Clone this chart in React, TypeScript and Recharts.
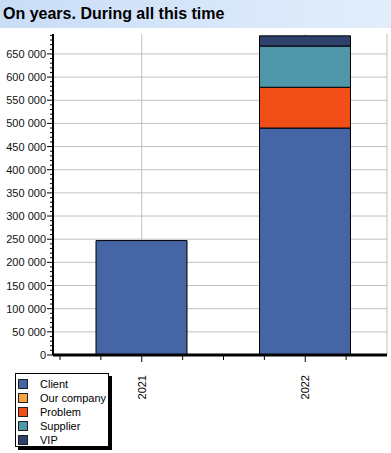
import { BarChart, Bar, XAxis, YAxis, CartesianGrid } from 'recharts'

const years = ['2021', '2022']
const client = [247000, 490000]
const ourCompany = [0, 0]
const problem = [0, 88000]
const supplier = [0, 89000]
const vip = [0, 22000]

const seriesNames = ['Client', 'Our company', 'Problem', 'Supplier', 'VIP']
const seriesKeys = ['client', 'ourCompany', 'problem', 'supplier', 'vip']
const seriesColors = ['#4565a5', '#f5a345', '#f14f17', '#4f97a8', '#2d416c']

const majorTicks = [0, 50000, 100000, 150000, 200000, 250000, 300000, 350000, 400000, 450000, 500000, 550000, 600000, 650000]
const minorTicks = Array.from({ length: 70 }, (_, i) => i * 10000)

const data = years.map((year, i) => ({
  year,
  client: client[i],
  ourCompany: ourCompany[i],
  problem: problem[i],
  supplier: supplier[i],
  vip: vip[i]
}))

const font = 'Arial, "Liberation Sans", sans-serif'
const BAND = 163.5

function YTick(props: any) {
  const { x, y, payload } = props
  const major = payload.value % 50000 === 0
  return (
    <g>
      <line x1={x - (major ? 6 : 3)} x2={x} y1={y} y2={y} stroke="#000" strokeWidth={1} />
      {major && (
        <text x={x - 7} y={y + 4} textAnchor="end" fontSize={11} fontFamily={font} fill="#111">
          {payload.value === 0 ? '0' : `${payload.value / 1000} 000`}
        </text>
      )}
    </g>
  )
}

function XTick(props: any) {
  const { x, y, payload } = props
  const offsets = [-BAND / 2, -BAND / 4, 0, BAND / 4]
  return (
    <g>
      {offsets.map((o) => (
        <line key={o} x1={x + o} x2={x + o} y1={y + 1} y2={y + (o === 0 ? 7 : 5)} stroke="#000" strokeWidth={1} />
      ))}
      <text
        x={x + 4}
        y={y + 20}
        transform={`rotate(-90 ${x + 4} ${y + 20})`}
        textAnchor="end"
        fontSize={11}
        fontFamily={font}
        fill="#000"
      >
        {payload.value}
      </text>
    </g>
  )
}

function LegendBox() {
  return (
    <div
      style={{
        position: 'absolute',
        left: 15,
        top: 373,
        width: 94,
        height: 74,
        border: '1px solid #000',
        boxShadow: '3px 3px 0 #000',
        background: '#fff',
        boxSizing: 'border-box',
        padding: '3px 0 0 2px',
        fontFamily: font,
        fontSize: 11,
        whiteSpace: 'nowrap'
      }}
    >
      {seriesNames.map((name, i) => (
        <div key={name} style={{ display: 'flex', alignItems: 'center', height: 14 }}>
          <span
            style={{
              width: 8,
              height: 8,
              background: seriesColors[i],
              border: '1px solid #222',
              marginRight: 12,
              display: 'inline-block',
              flex: 'none'
            }}
          />
          <span style={{ color: '#000' }}>{name}</span>
        </div>
      ))}
    </div>
  )
}

export default function App() {
  return (
    <div style={{ position: 'absolute', left: 0, top: 0, width: 391, height: 453, background: '#fff' }}>
      <div
        style={{
          height: 28,
          background: 'linear-gradient(to right, #c9ddf7, #e3eefc)',
          fontFamily: font,
          fontWeight: 'bold',
          fontSize: 16,
          lineHeight: '28px',
          paddingLeft: 3,
          color: '#000'
        }}
      >
        On years. During all this time
      </div>
      <BarChart
        width={391}
        height={425}
        data={data}
        margin={{ top: 6, right: 4, bottom: 0, left: 0 }}
        barSize={91}
      >
        <CartesianGrid stroke="#c0c0c0" horizontalValues={majorTicks} />
        <XAxis
          dataKey="year"
          height={98}
          padding={{ left: 7, right: 0 }}
          axisLine={{ stroke: '#000', strokeWidth: 3 }}
          tickLine={false}
          tickSize={0}
          tickMargin={0}
          tick={<XTick />}
          interval={0}
        />
        <YAxis
          width={53}
          domain={[0, 693000]}
          ticks={minorTicks}
          interval={0}
          allowDataOverflow
          axisLine={{ stroke: '#000', strokeWidth: 2 }}
          tickLine={false}
          tickSize={0}
          tickMargin={0}
          tick={<YTick />}
        />
        {seriesKeys.map((k, i) => (
          <Bar
            key={k}
            dataKey={k}
            name={seriesNames[i]}
            stackId="a"
            fill={seriesColors[i]}
            stroke="#000"
            strokeWidth={1}
            isAnimationActive={false}
          />
        ))}
      </BarChart>
      <LegendBox />
    </div>
  )
}
